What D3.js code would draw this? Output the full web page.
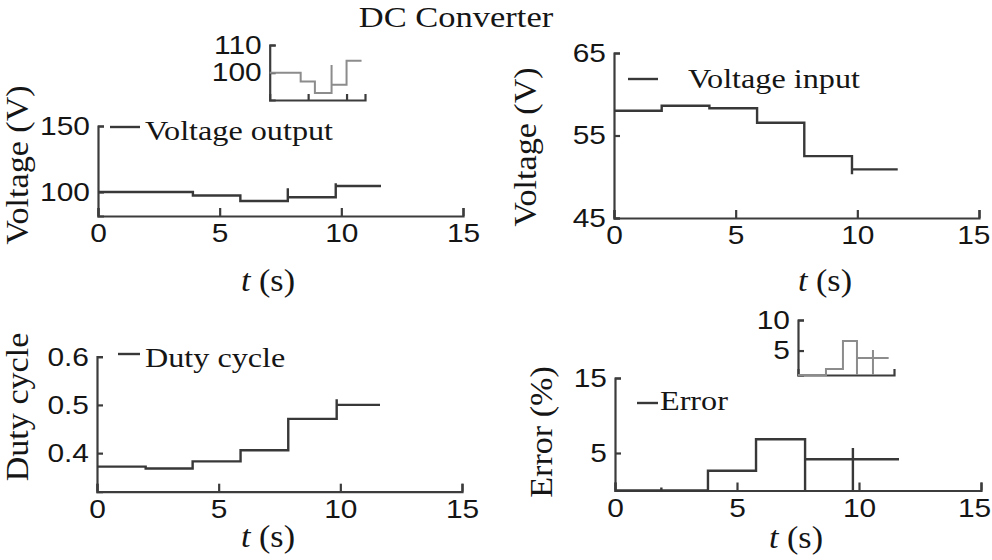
<!DOCTYPE html>
<html lang="en">
<head>
<meta charset="UTF-8">
<title>DC Converter</title>
<style>
  body { margin: 0; background: #fff; }
  svg { display: block; font-family: "Liberation Serif", "Times New Roman", serif; }
  .domain, .tick line { stroke: #3c3c3c; stroke-width: 2.2; }
  .tick text { font-size: 26px; fill: #151515; }
  .trace { fill: none; stroke: #383838; stroke-width: 2.4; }
  .inset { fill: none; stroke: #8c8c8c; stroke-width: 2; }
</style>
</head>
<body>
<svg width="992" height="560"></svg>
<script src="https://d3js.org/d3.v7.min.js"></script>
<script>
// step data (time in s)
const outT = [0, 3.9, 5.85, 7.8, 7.8, 9.77, 9.77, 11.63];
const outV = [100, 97.3, 93.2, 102.8, 96, 106.6, 104.5, 104.5];

const inT = [0, 1.96, 3.92, 5.88, 7.82, 9.78, 9.78, 11.66];
const inV = [58.0, 58.6, 58.3, 56.55, 52.5, 50.3, 50.9, 50.9];

const dutyT = [0, 2.0, 3.93, 5.9, 7.86, 9.85, 9.85, 11.63];
const dutyV = [0.372, 0.368, 0.383, 0.406, 0.471, 0.512, 0.5, 0.5];

const errT = [0, 1.9, 1.9, 3.81, 5.78, 7.79, 7.79, 9.75, 9.75, 9.75, 11.64];
const errV = [0, 0.4, 0, 2.64, 6.83, 0, 4.16, 0, 5.67, 4.16, 4.16];

// zoomed insets
const zoomOutT = [0, 4.03, 5.88, 8.05, 8.05, 10, 11.95];
const zoomOutV = [100, 96.75, 92.6, 102.8, 95.6, 104.3, 104.3];
const zoomErrT = [0, 3.67, 5.9, 7.74, 7.74, 9.84, 9.84, 9.84, 11.9];
const zoomErrV = [1, 1.98, 6.56, 1, 3.78, 1, 5.1, 3.78, 3.78];

const xTicks = [0, 5, 10, 15];
const SX = 1.15; // the source font is wider than Times

const svg = d3.select("svg");

function label(x, y, txt, size, opts = {}) {
  const rot = opts.rotate || 0;
  const t = svg.append("text")
    .attr("transform", `translate(${x},${y}) rotate(${rot}) scale(${opts.sx || SX},1)`)
    .attr("text-anchor", opts.anchor || "start")
    .attr("font-size", size)
    .attr("fill", "#151515");
  if (opts.dy) t.attr("dy", opts.dy);
  return t.text(txt);
}

function panel(p) {
  const x = d3.scaleLinear().domain([0, 15]).range(p.xr);
  const y = d3.scaleLinear().domain(p.yd).range(p.yr);

  svg.append("g")
      .attr("transform", `translate(0,${p.yr[0]})`)
      .call(d3.axisBottom(x).tickValues(xTicks).tickSizeInner(-8).tickSizeOuter(-8).tickPadding(8))
      .call(g => g.selectAll(".tick text").attr("transform", `scale(${SX},1)`))
      .call(g => g.selectAll(".tick text").filter(d => d === 15).attr("dx", p.lastDx || 0));

  svg.append("g")
      .attr("transform", `translate(${p.xr[0]},0)`)
      .call(d3.axisLeft(y).tickValues(p.yTicks).tickFormat(p.fmt || d3.format("d"))
        .tickSizeInner(-6).tickSizeOuter(-6).tickPadding(7))
      .call(g => g.selectAll(".tick text").attr("transform", `scale(${SX},1)`));

  const line = d3.line().curve(d3.curveStepAfter).x(d => x(d[0])).y(d => y(d[1]));
  svg.append("path")
      .attr("class", "trace")
      .attr("d", line(d3.zip(p.t, p.v)));

  // legend
  svg.append("line")
      .attr("x1", p.leg[0]).attr("x2", p.leg[1])
      .attr("y1", p.leg[2]).attr("y2", p.leg[2])
      .attr("stroke", "#383838").attr("stroke-width", 2.4);
  label(p.leg[3], p.leg[4], p.name, 28);

  // axis titles
  label(p.yTitle[0], p.yTitle[1], p.yLabel, 31, {rotate: -90, anchor: "middle", dy: "0.25em", sx: 1.1});
  const xt = label(p.xTitle[0], p.xTitle[1], "", 31, {anchor: "middle", sx: 1.1});
  xt.append("tspan").attr("font-style", "italic").text("t");
  xt.append("tspan").text(" (s)");
}

function inset(p) {
  const x = d3.scaleLinear().domain(p.xd).range(p.xr);
  const y = d3.scaleLinear().domain(p.yd).range(p.yr).clamp(true);

  svg.append("g")
      .attr("transform", `translate(0,${p.yr[0]})`)
      .call(d3.axisBottom(x).tickValues(p.xTicks).tickFormat("").tickSizeInner(-6).tickSizeOuter(-6));

  svg.append("g")
      .attr("transform", `translate(${p.xr[0]},0)`)
      .call(d3.axisLeft(y).tickValues(p.yTicks).tickFormat(d3.format("d"))
        .tickSizeInner(-6).tickSizeOuter(-6).tickPadding(7))
      .call(g => g.selectAll(".tick text").attr("transform", `scale(${SX},1)`));

  const line = d3.line().curve(d3.curveStepAfter).x(d => x(d[0])).y(d => y(d[1]));
  svg.append("path")
      .attr("class", "inset")
      .attr("d", line(d3.zip(p.t, p.v)));
}

label(456, 27, "DC Converter", 30, {anchor: "middle"});

panel({
  t: outT, v: outV, name: "Voltage output", yLabel: "Voltage (V)",
  xr: [98, 463], yr: [216, 126], yd: [81.8, 150], yTicks: [100, 150],
  leg: [110, 140, 127, 145, 140], yTitle: [20, 165], xTitle: [268, 291]
});
panel({
  t: inT, v: inV, name: "Voltage input", yLabel: "Voltage (V)",
  xr: [614, 979], yr: [218, 53], yd: [45, 65], yTicks: [45, 55, 65],
  leg: [628, 658, 79, 688, 88], yTitle: [528, 147], xTitle: [825, 291], lastDx: -5
});
panel({
  t: dutyT, v: dutyV, name: "Duty cycle", yLabel: "Duty cycle",
  xr: [97, 462], yr: [491.7, 356.7], yd: [0.32, 0.6], yTicks: [0.4, 0.5, 0.6],
  fmt: d3.format(".1f"),
  leg: [118, 140, 354, 145, 367], yTitle: [20, 407], xTitle: [268, 547]
});
panel({
  t: errT, v: errV, name: "Error", yLabel: "Error (%)",
  xr: [615, 981], yr: [490.5, 378], yd: [0, 15], yTicks: [5, 15],
  leg: [637, 658, 403, 660, 410], yTitle: [544, 432], xTitle: [796, 548], lastDx: -6
});

inset({
  t: zoomOutT, v: zoomOutV,
  xd: [0, 12.4], xr: [269.7, 365], yd: [90.1, 110], yr: [100, 45],
  xTicks: [5, 10], yTicks: [100, 110]
});
inset({
  t: zoomErrT, v: zoomErrV,
  xd: [0, 12.6], xr: [798, 894], yd: [1, 10], yr: [375, 320],
  xTicks: [], yTicks: [5, 10]
});
</script>
</body>
</html>
